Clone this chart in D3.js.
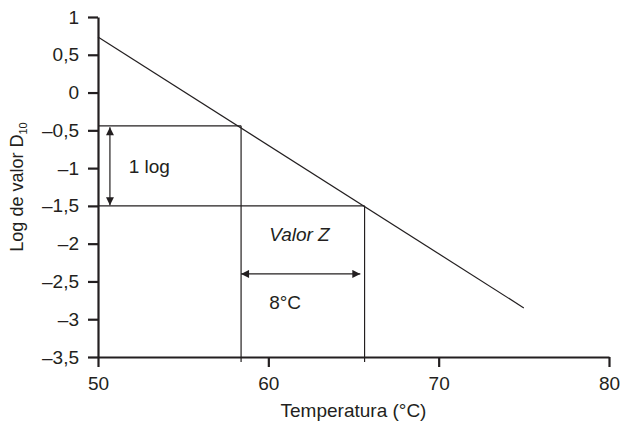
<!DOCTYPE html>
<html>
<head>
<meta charset="utf-8">
<script src="https://cdn.jsdelivr.net/npm/d3@7/dist/d3.min.js"></script>
<style>
  html, body { margin: 0; padding: 0; background: #fff; }
  svg { display: block; font-family: "Liberation Sans", Arial, Helvetica, sans-serif; }
</style>
</head>
<body>
<svg id="chart" width="620" height="424"></svg>
<script>
// Thermal death-time curve: log D10 versus temperature
const xTicks = [50, 60, 70, 80];
const yTicks = [1, 0.5, 0, -0.5, -1, -1.5, -2, -2.5, -3, -3.5];

// Regression line end points (temperature °C, log D10)
const curveTemp = [50, 75];
const curveLogD = [0.735, -2.85];

// Points on the line where log D10 falls by one log cycle
const markTemp = [58.4, 65.65];
const markLogD = [-0.44, -1.5];

// Double arrows: [x1, y1, x2, y2] in data units
const oneLogArrow = [50.7, -0.46, 50.7, -1.49];
const zArrow = [58.4, -2.4, 65.4, -2.4];

// Annotation labels: [text, temperature, log D10, italic]
const labels = [
  ["1 log", 51.8, -1.06, false],
  ["Valor Z", 60.05, -1.96, true],
  ["8°C", 60.05, -2.86, false]
];

const W = 620, H = 424;
const m = { left: 98, right: 11, top: 17, bottom: 67 };
const ink = "#231f20";
const fs = 19;

const svg = d3.select("#chart");

const x = d3.scaleLinear().domain([50, 80]).range([m.left, W - m.right]);
const y = d3.scaleLinear().domain([-3.5, 1]).range([H - m.bottom, m.top]);

const fmt = v => (v < 0 ? "\u2013" : "") + String(Math.abs(v)).replace(".", ",");

// Arrowhead marker
const defs = svg.append("defs");
defs.append("marker")
  .attr("id", "head")
  .attr("viewBox", "0 0 10 10")
  .attr("refX", 10).attr("refY", 5)
  .attr("markerWidth", 10).attr("markerHeight", 8)
  .attr("markerUnits", "userSpaceOnUse")
  .attr("orient", "auto-start-reverse")
  .append("path")
  .attr("d", "M0,0 L10,5 L0,10 Z")
  .attr("fill", ink);

// Guide lines from the curve to the axes
const g = svg.append("g").attr("stroke", ink).attr("stroke-width", 1.2).attr("fill", "none");
markTemp.forEach((t, i) => {
  g.append("line")
    .attr("x1", x(50)).attr("x2", x(t))
    .attr("y1", y(markLogD[i])).attr("y2", y(markLogD[i]));
  g.append("line")
    .attr("x1", x(t)).attr("x2", x(t))
    .attr("y1", y(markLogD[i])).attr("y2", y(-3.5) + 5);
});

// The curve
svg.append("path")
  .datum(curveTemp.map((t, i) => [t, curveLogD[i]]))
  .attr("fill", "none")
  .attr("stroke", ink)
  .attr("stroke-width", 1.2)
  .attr("d", d3.line().x(d => x(d[0])).y(d => y(d[1])));

// Double-headed arrows
[oneLogArrow, zArrow].forEach(a => {
  svg.append("line")
    .attr("x1", x(a[0])).attr("y1", y(a[1]))
    .attr("x2", x(a[2])).attr("y2", y(a[3]))
    .attr("stroke", ink).attr("stroke-width", 1.2)
    .attr("marker-start", "url(#head)")
    .attr("marker-end", "url(#head)");
});

// Annotation text
labels.forEach(l => {
  svg.append("text")
    .attr("x", x(l[1])).attr("y", y(l[2]))
    .attr("font-size", fs)
    .attr("font-style", l[3] ? "italic" : "normal")
    .attr("fill", ink)
    .text(l[0]);
});

// Axes
const xAxis = svg.append("g")
  .attr("transform", `translate(0,${y(-3.5)})`)
  .call(d3.axisBottom(x).tickValues(xTicks).tickSize(10).tickSizeOuter(0).tickFormat(d3.format("d")));
const yAxis = svg.append("g")
  .attr("transform", `translate(${x(50)},0)`)
  .call(d3.axisLeft(y).tickValues(yTicks).tickSize(10).tickSizeOuter(0).tickFormat(fmt));

[xAxis, yAxis].forEach(ax => {
  ax.select(".domain").attr("stroke", ink).attr("stroke-width", 2.2);
  ax.selectAll(".tick line").attr("stroke", ink).attr("stroke-width", 2.2);
  ax.selectAll(".tick text")
    .attr("fill", ink)
    .attr("font-size", fs)
    .attr("font-family", "'Liberation Sans', Arial, sans-serif");
});
xAxis.selectAll(".tick text").attr("y", 10).attr("dy", "1.2em");
yAxis.selectAll(".tick text").attr("x", -19);

// Axis titles
svg.append("text")
  .attr("x", (x(50) + x(80)) / 2)
  .attr("y", 417)
  .attr("text-anchor", "middle")
  .attr("font-size", fs)
  .attr("fill", ink)
  .text("Temperatura (°C)");

const yt = svg.append("text")
  .attr("transform", `translate(23,${(y(1) + y(-3.5)) / 2}) rotate(-90)`)
  .attr("text-anchor", "middle")
  .attr("font-size", 18)
  .attr("fill", ink);
yt.append("tspan").text("Log de valor D");
yt.append("tspan").attr("font-size", 11).attr("dy", 4).text("10");
</script>
</body>
</html>
